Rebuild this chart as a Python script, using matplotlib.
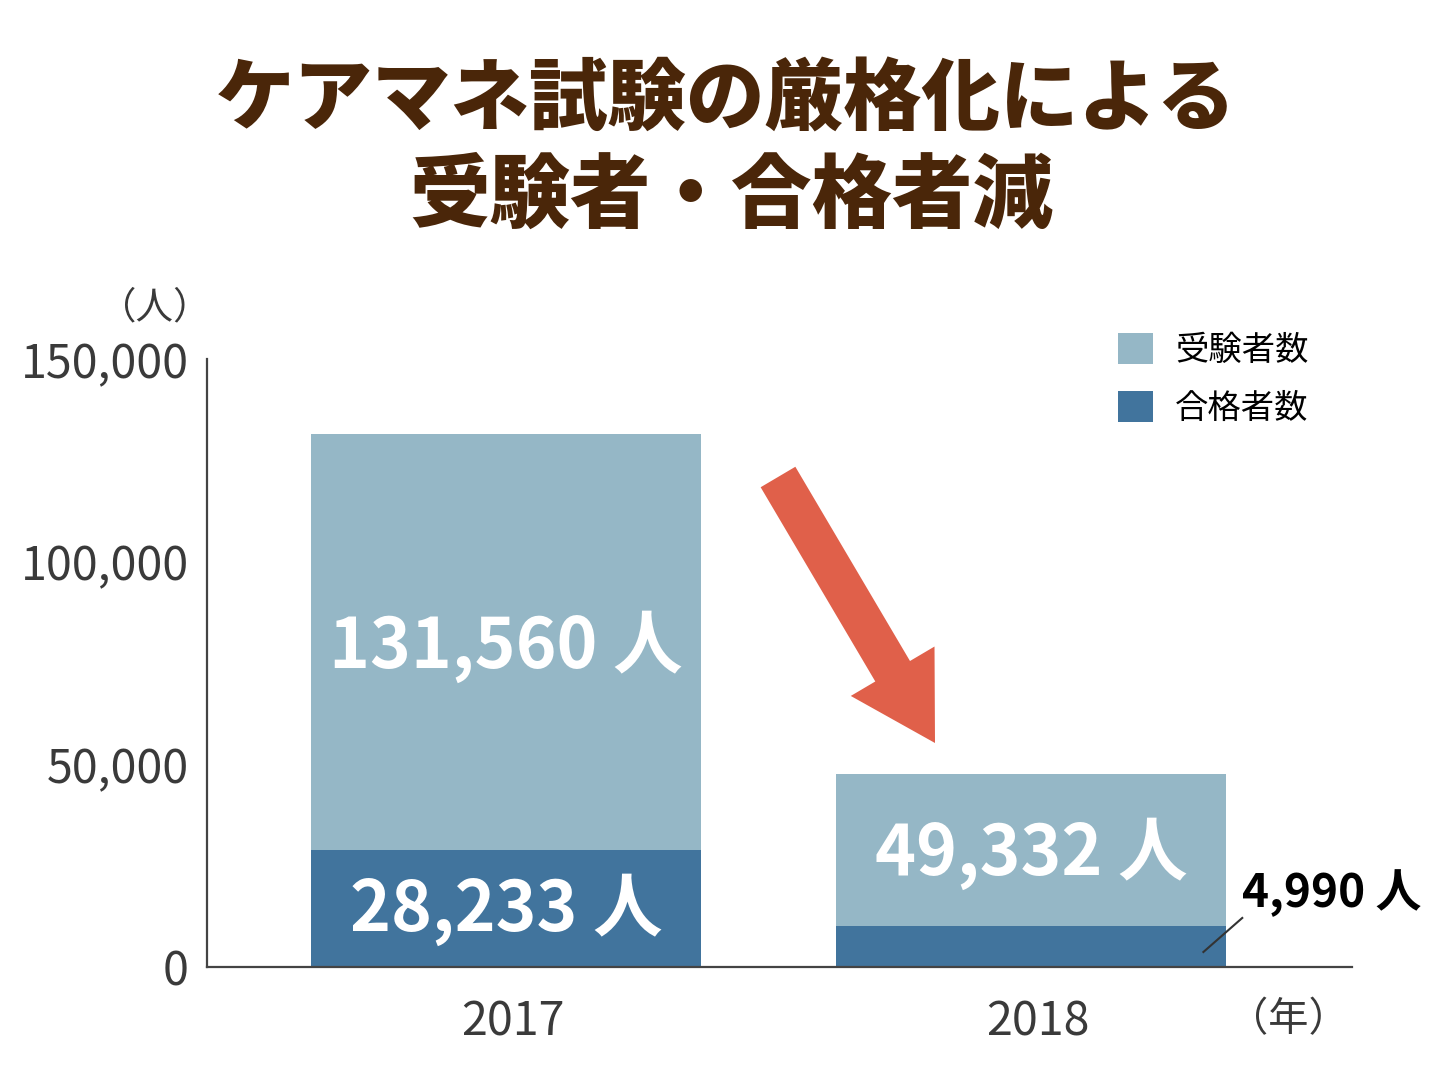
import matplotlib
matplotlib.use('Agg')
import matplotlib.pyplot as plt
import matplotlib.transforms as mtransforms
from matplotlib.patches import Patch

plt.rcParams['font.family'] = ['Noto Sans CJK JP', 'DejaVu Sans']

# データ
years = ['2017', '2018']
applicants = [131560, 49332]      # 受験者数（表示値）
passers = [28233, 4990]           # 合格者数（表示値）
# 図中で描かれている棒の高さ（2018年は実値と異なる描き方）
applicants_bar = [131560, 47600]
passers_bar = [28800, 10100]
yticks = [0, 50000, 100000, 150000]

LIGHT = '#95b7c6'
DARK = '#41749d'
ARROW = '#e0604a'
TITLE = '#4a2609'
GRAY = '#3a3a3a'

fig = plt.figure(figsize=(14.52, 10.89), dpi=100)
ax = fig.add_axes([207 / 1452, 1 - 967 / 1089, (1352 - 207) / 1452, (967 - 359) / 1089])

x = list(range(len(years)))
width = 0.743
ax.bar(x, applicants_bar, width=width, color=LIGHT, zorder=2)
ax.bar(x, passers_bar, width=width, color=DARK, zorder=3)

ax.set_xlim(-0.5695, 1.611)
ax.set_ylim(0, 150000)
ax.set_yticks(yticks, labels=[f'{v:,}' for v in yticks])
ax.set_xticks(x, labels=years)
ax.tick_params(axis='both', length=0, labelsize=33.5, labelcolor=GRAY)
ax.tick_params(axis='y', pad=13)
ax.tick_params(axis='x', pad=22)
# 年ラベルを少し右へ
shift = mtransforms.ScaledTranslation(7 / 100, 0, fig.dpi_scale_trans)
for lbl in ax.get_xticklabels():
    lbl.set_transform(lbl.get_transform() + shift)
for side in ['top', 'right']:
    ax.spines[side].set_visible(False)
for side in ['left', 'bottom']:
    ax.spines[side].set_color('#444444')
    ax.spines[side].set_linewidth(1.6)
ax.spines['bottom'].set_zorder(4)

# 棒の中のラベル
label_kw = dict(ha='center', va='center', color='white', fontsize=50, weight='bold', zorder=5)
ax.text(0, (passers_bar[0] + applicants_bar[0]) / 2 - 1200, f'{applicants[0]:,} 人', **label_kw)
ax.text(0, passers_bar[0] / 2 - 300, f'{passers[0]:,} 人', **label_kw)
ax.text(1, (passers_bar[1] + applicants_bar[1]) / 2 - 1000, f'{applicants[1]:,} 人', **label_kw)

# 2018年の合格者数（引き出し線）
ax.plot([1.328, 1.402], [3700, 12100], color='#333333', lw=1.5, zorder=5, clip_on=False)
ax.text(1.402, 18300, f'{passers[1]:,} 人', ha='left', va='center', color='black',
        fontsize=33, weight='bold', zorder=5, clip_on=False)

# 単位
fig.text(155 / 1452, 1 - 308 / 1089, '（人）', ha='center', va='center', fontsize=27, color=GRAY)
fig.text(1288 / 1452, 1 - 1020 / 1089, '（年）', ha='center', va='center', fontsize=29, color=GRAY)

# 凡例
handles = [Patch(facecolor=LIGHT, label='受験者数'), Patch(facecolor=DARK, label='合格者数')]
fig.legend(handles=handles, loc='upper left', bbox_to_anchor=(1118 / 1452, 1 - 333 / 1089),
           frameon=False, fontsize=24, handlelength=1.06, handleheight=1.06,
           handletextpad=0.65, labelspacing=0.68, borderpad=0, borderaxespad=0)

# 減少を示す矢印
ax.annotate('', xy=(935, 1089 - 743), xytext=(778, 1089 - 477),
            xycoords='figure pixels', textcoords='figure pixels',
            arrowprops=dict(arrowstyle='simple,head_length=0.6,head_width=0.7,tail_width=0.29',
                            mutation_scale=100, color=ARROW, shrinkA=0, shrinkB=0, lw=0))

# タイトル
fig.text(0.5, 1 - 101 / 1089, 'ケアマネ試験の厳格化による', ha='center', va='center',
         fontsize=56.5, weight='black', color=TITLE)
fig.text(731 / 1452, 1 - 197 / 1089, '受験者・合格者減', ha='center', va='center',
         fontsize=58, weight='black', color=TITLE)

fig.savefig('out.png', dpi=100)
